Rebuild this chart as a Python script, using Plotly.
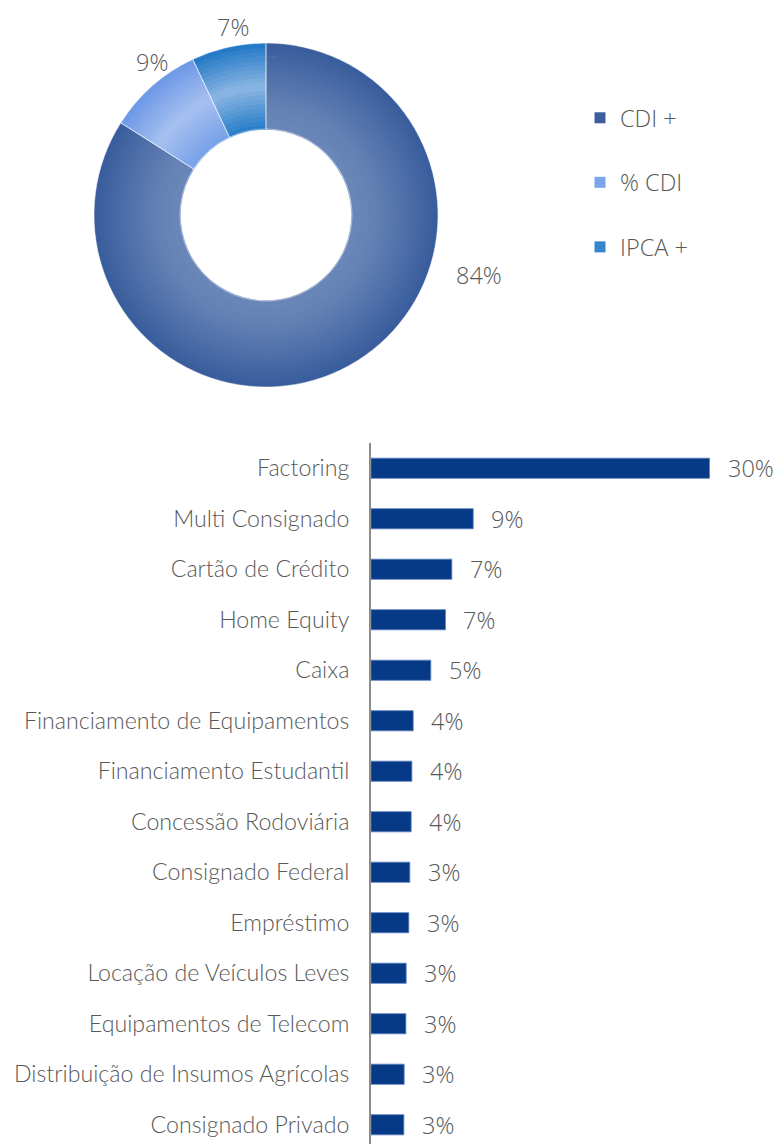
import plotly.graph_objects as go

# Indexer mix (donut)
idx_labels = ["CDI +", "% CDI", "IPCA +"]
idx_values = [84, 9, 7]

# Sector exposure, % of portfolio (bars)
sectors = [
    "Factoring", "Multi Consignado", "Cartão de Crédito", "Home Equity", "Caixa",
    "Financiamento de Equipamentos", "Financiamento Estudantil", "Concessão Rodoviária",
    "Consignado Federal", "Empréstimo", "Locação de Veículos Leves",
    "Equipamentos de Telecom", "Distribuição de Insumos Agrícolas", "Consignado Privado",
]
sector_values = [30.0, 9.06, 7.16, 6.60, 5.30, 3.74, 3.62, 3.56, 3.44, 3.35, 3.12, 3.09, 2.94, 2.91]

W, H = 780, 1144
TEXT = "#595959"
NUM_FONT = dict(family="Open Sans", size=23.5, color=TEXT, weight=300)
CAT_FONT = dict(family="Lato", size=23.2, color=TEXT, weight=300)

# radial shading stops per slice: (t, rgb) with t=0 at the hole, t=1 at the rim
shade = [
    [(0.0, (106, 135, 184)), (0.25, (101, 130, 181)), (1.0, (57, 93, 156))],
    [(0.0, (118, 160, 233)), (0.5, (167, 192, 240)), (1.0, (108, 152, 230))],
    [(0.0, (38, 124, 200)), (0.5, (139, 182, 226)), (1.0, (32, 119, 198))],
]


def shade_at(stops, t):
    for (t0, c0), (t1, c1) in zip(stops, stops[1:]):
        if t <= t1:
            f = (t - t0) / (t1 - t0)
            return "rgb(%d,%d,%d)" % tuple(round(a + (b - a) * f) for a, b in zip(c0, c1))
    return "rgb(%d,%d,%d)" % stops[-1][1]


fig = go.Figure()

CX, CY, R_OUT, R_IN = 266, 215, 172, 86
N = 20


def dom(r):
    return dict(x=[(CX - r) / W, (CX + r) / W], y=[1 - (CY + r) / H, 1 - (CY - r) / H])


for i in range(N):
    r0 = R_IN + (R_OUT - R_IN) * i / N
    r1 = R_IN + (R_OUT - R_IN) * (i + 1) / N
    t = (i + 0.5) / N
    fig.add_trace(go.Pie(
        labels=idx_labels, values=idx_values, sort=False, direction="clockwise", rotation=0,
        hole=max(r0 - 0.7, 0) / r1, domain=dom(r1),
        marker=dict(colors=[shade_at(s, t) for s in shade], line=dict(width=0)),
        textinfo="none", hoverinfo="label+percent", showlegend=False,
    ))

# thin slice separators
fig.add_trace(go.Pie(
    labels=idx_labels, values=idx_values, sort=False, direction="clockwise", rotation=0,
    hole=R_IN / R_OUT, domain=dom(R_OUT),
    marker=dict(colors=["rgba(0,0,0,0)"] * 3, line=dict(color="rgba(255,255,255,0.6)", width=0.8)),
    textinfo="none", hoverinfo="skip", showlegend=False,
))

# donut value labels
donut_label_pos = [(479, 275), (152, 62), (233, 27)]
for v, (px, py) in zip(idx_values, donut_label_pos):
    fig.add_annotation(x=px / W, y=1 - py / H, xref="paper", yref="paper", text=f"{v}%",
                       showarrow=False, font=NUM_FONT, xanchor="center", yanchor="middle")

# legend entries for the donut
legend_colors = ["#3d5f9e", "#7ba4ea", "#3585cd"]
for k, (name, col) in enumerate(zip(idx_labels, legend_colors)):
    fig.add_trace(go.Scatter(
        x=[None], y=[None], mode="markers", name=name, legendgroup=f"g{k}",
        marker=dict(symbol="square", size=11, color=col),
        xaxis="x2", yaxis="y2", hoverinfo="skip",
    ))

# sector bars
fig.add_trace(go.Bar(
    x=sector_values, y=sectors, orientation="h", width=0.4,
    marker=dict(color="#073a86", line=dict(color="#5a7fc0", width=0.8)),
    hovertemplate="%{y}: %{x:.1f}%<extra></extra>", showlegend=False,
))
for s, v in zip(sectors, sector_values):
    fig.add_annotation(x=v, y=s, xref="x", yref="y", text=f"{v:.0f}%", showarrow=False,
                       xanchor="left", yanchor="middle", xshift=16, font=NUM_FONT)

AX0 = 371
PX_PER_PCT = 338.5 / 30
TOP = 443
BAND = 50.5
fig.update_layout(
    width=W, height=H, margin=dict(l=0, r=0, t=0, b=0),
    paper_bgcolor="white", plot_bgcolor="white",
    xaxis=dict(domain=[AX0 / W, 1], range=[0, (W - AX0) / PX_PER_PCT],
               showgrid=False, zeroline=False, showticklabels=False, showline=False),
    yaxis=dict(domain=[0, 1 - TOP / H], type="category", categoryorder="array",
               categoryarray=sectors,
               range=[(H - TOP) / BAND - 0.5, -0.5],
               showline=True, linecolor="#8c8c8c", linewidth=2, ticks="",
               showgrid=False, zeroline=False, automargin=False,
               ticklabelstandoff=15, tickfont=CAT_FONT),
    xaxis2=dict(domain=[0, 0.01], visible=False, anchor="y2"),
    yaxis2=dict(domain=[0.99, 1], visible=False, anchor="x2"),
    legend=dict(x=580 / W, y=1 - 96 / H, xanchor="left", yanchor="top",
                tracegroupgap=31, font=dict(family="Open Sans", size=23.5, color=TEXT, weight=300),
                bgcolor="rgba(0,0,0,0)", itemclick=False, itemdoubleclick=False),
    showlegend=True,
)

fig.write_html("out.html")
